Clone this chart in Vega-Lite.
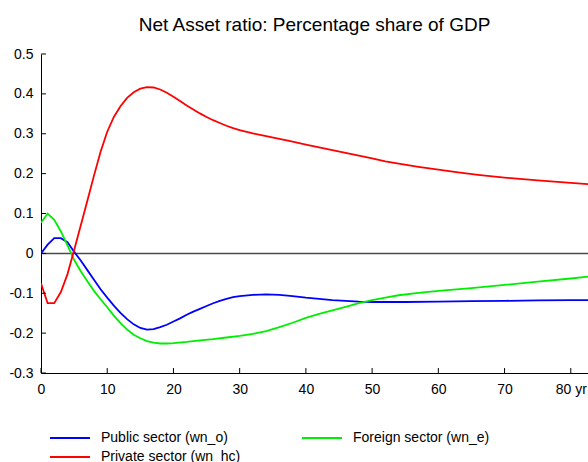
{
  "$schema": "https://vega.github.io/schema/vega-lite/v6.json",
  "autosize": {"type": "none"},
  "width": 547,
  "height": 319,
  "padding": {"left": 41, "top": 54, "right": 0, "bottom": 89},
  "background": "white",
  "config": {
    "font": "Liberation Sans",
    "view": {"stroke": null},
    "axis": {"grid": false, "domainColor": "#000000", "tickColor": "#000000", "labelColor": "#000000", "labelFontSize": 14, "labelFont": "Liberation Sans", "labelOverlap": false},
    "legend": {"orient": "none", "symbolType": "stroke", "symbolSize": 1600, "symbolStrokeWidth": 2, "labelFontSize": 14, "labelColor": "#000000", "labelOffset": 10, "labelLimit": 300}
  },
  "title": {"text": "Net Asset ratio: Percentage share of GDP", "fontSize": 19, "fontWeight": "normal", "font": "Liberation Sans", "color": "#000000", "anchor": "middle", "frame": "group", "offset": 12},
  "datasets": {
    "zero": [{"y": 0}],
    "ticksx": [{"x":0},{"x":10},{"x":20},{"x":30},{"x":40},{"x":50},{"x":60},{"x":70},{"x":80}],
    "ticksy": [{"y":-0.3},{"y":-0.2},{"y":-0.1},{"y":0},{"y":0.1},{"y":0.2},{"y":0.3},{"y":0.4},{"y":0.5}],
    "series": [
    {"t":0,"s":"Public sector (wn_o)","v":0},{"t":1,"s":"Public sector (wn_o)","v":0.022},{"t":2,"s":"Public sector (wn_o)","v":0.038},{"t":3,"s":"Public sector (wn_o)","v":0.038},{"t":4,"s":"Public sector (wn_o)","v":0.028},{"t":5,"s":"Public sector (wn_o)","v":0.004},{"t":6,"s":"Public sector (wn_o)","v":-0.018},{"t":7,"s":"Public sector (wn_o)","v":-0.042},{"t":8,"s":"Public sector (wn_o)","v":-0.066},{"t":9,"s":"Public sector (wn_o)","v":-0.09},{"t":10,"s":"Public sector (wn_o)","v":-0.111},{"t":11,"s":"Public sector (wn_o)","v":-0.131},{"t":12,"s":"Public sector (wn_o)","v":-0.149},{"t":13,"s":"Public sector (wn_o)","v":-0.165},{"t":14,"s":"Public sector (wn_o)","v":-0.178},{"t":15,"s":"Public sector (wn_o)","v":-0.187},{"t":16,"s":"Public sector (wn_o)","v":-0.191},{"t":17,"s":"Public sector (wn_o)","v":-0.19},{"t":18,"s":"Public sector (wn_o)","v":-0.185},{"t":19,"s":"Public sector (wn_o)","v":-0.179},{"t":20,"s":"Public sector (wn_o)","v":-0.171},{"t":21,"s":"Public sector (wn_o)","v":-0.163},{"t":22,"s":"Public sector (wn_o)","v":-0.154},{"t":23,"s":"Public sector (wn_o)","v":-0.146},{"t":24,"s":"Public sector (wn_o)","v":-0.139},{"t":25,"s":"Public sector (wn_o)","v":-0.132},{"t":26,"s":"Public sector (wn_o)","v":-0.125},{"t":27,"s":"Public sector (wn_o)","v":-0.119},{"t":28,"s":"Public sector (wn_o)","v":-0.114},{"t":29,"s":"Public sector (wn_o)","v":-0.11},{"t":30,"s":"Public sector (wn_o)","v":-0.107},{"t":32,"s":"Public sector (wn_o)","v":-0.104},{"t":34,"s":"Public sector (wn_o)","v":-0.103},{"t":36,"s":"Public sector (wn_o)","v":-0.104},{"t":38,"s":"Public sector (wn_o)","v":-0.107},{"t":40,"s":"Public sector (wn_o)","v":-0.111},{"t":42,"s":"Public sector (wn_o)","v":-0.114},{"t":44,"s":"Public sector (wn_o)","v":-0.117},{"t":46,"s":"Public sector (wn_o)","v":-0.119},{"t":48,"s":"Public sector (wn_o)","v":-0.121},{"t":50,"s":"Public sector (wn_o)","v":-0.122},{"t":55,"s":"Public sector (wn_o)","v":-0.122},{"t":60,"s":"Public sector (wn_o)","v":-0.121},{"t":65,"s":"Public sector (wn_o)","v":-0.12},{"t":70,"s":"Public sector (wn_o)","v":-0.119},{"t":75,"s":"Public sector (wn_o)","v":-0.118},{"t":80,"s":"Public sector (wn_o)","v":-0.117},{"t":84,"s":"Public sector (wn_o)","v":-0.117},
    {"t":0,"s":"Foreign sector (wn_e)","v":0.077},{"t":1,"s":"Foreign sector (wn_e)","v":0.1},{"t":2,"s":"Foreign sector (wn_e)","v":0.084},{"t":3,"s":"Foreign sector (wn_e)","v":0.055},{"t":4,"s":"Foreign sector (wn_e)","v":0.02},{"t":5,"s":"Foreign sector (wn_e)","v":-0.016},{"t":6,"s":"Foreign sector (wn_e)","v":-0.045},{"t":7,"s":"Foreign sector (wn_e)","v":-0.07},{"t":8,"s":"Foreign sector (wn_e)","v":-0.094},{"t":9,"s":"Foreign sector (wn_e)","v":-0.115},{"t":10,"s":"Foreign sector (wn_e)","v":-0.135},{"t":11,"s":"Foreign sector (wn_e)","v":-0.156},{"t":12,"s":"Foreign sector (wn_e)","v":-0.175},{"t":13,"s":"Foreign sector (wn_e)","v":-0.191},{"t":14,"s":"Foreign sector (wn_e)","v":-0.204},{"t":15,"s":"Foreign sector (wn_e)","v":-0.213},{"t":16,"s":"Foreign sector (wn_e)","v":-0.22},{"t":17,"s":"Foreign sector (wn_e)","v":-0.224},{"t":18,"s":"Foreign sector (wn_e)","v":-0.226},{"t":19,"s":"Foreign sector (wn_e)","v":-0.226},{"t":20,"s":"Foreign sector (wn_e)","v":-0.225},{"t":22,"s":"Foreign sector (wn_e)","v":-0.222},{"t":24,"s":"Foreign sector (wn_e)","v":-0.218},{"t":26,"s":"Foreign sector (wn_e)","v":-0.215},{"t":28,"s":"Foreign sector (wn_e)","v":-0.211},{"t":30,"s":"Foreign sector (wn_e)","v":-0.207},{"t":32,"s":"Foreign sector (wn_e)","v":-0.202},{"t":34,"s":"Foreign sector (wn_e)","v":-0.195},{"t":36,"s":"Foreign sector (wn_e)","v":-0.185},{"t":38,"s":"Foreign sector (wn_e)","v":-0.174},{"t":40,"s":"Foreign sector (wn_e)","v":-0.162},{"t":42,"s":"Foreign sector (wn_e)","v":-0.152},{"t":44,"s":"Foreign sector (wn_e)","v":-0.143},{"t":46,"s":"Foreign sector (wn_e)","v":-0.134},{"t":48,"s":"Foreign sector (wn_e)","v":-0.125},{"t":50,"s":"Foreign sector (wn_e)","v":-0.117},{"t":52,"s":"Foreign sector (wn_e)","v":-0.111},{"t":54,"s":"Foreign sector (wn_e)","v":-0.105},{"t":57,"s":"Foreign sector (wn_e)","v":-0.099},{"t":60,"s":"Foreign sector (wn_e)","v":-0.094},{"t":65,"s":"Foreign sector (wn_e)","v":-0.087},{"t":70,"s":"Foreign sector (wn_e)","v":-0.079},{"t":75,"s":"Foreign sector (wn_e)","v":-0.071},{"t":80,"s":"Foreign sector (wn_e)","v":-0.063},{"t":84,"s":"Foreign sector (wn_e)","v":-0.056},
    {"t":0,"s":"Private sector (wn_hc)","v":-0.075},{"t":1,"s":"Private sector (wn_hc)","v":-0.125},{"t":2,"s":"Private sector (wn_hc)","v":-0.125},{"t":3,"s":"Private sector (wn_hc)","v":-0.097},{"t":4,"s":"Private sector (wn_hc)","v":-0.052},{"t":5,"s":"Private sector (wn_hc)","v":0.008},{"t":6,"s":"Private sector (wn_hc)","v":0.07},{"t":7,"s":"Private sector (wn_hc)","v":0.132},{"t":8,"s":"Private sector (wn_hc)","v":0.195},{"t":9,"s":"Private sector (wn_hc)","v":0.255},{"t":10,"s":"Private sector (wn_hc)","v":0.305},{"t":11,"s":"Private sector (wn_hc)","v":0.342},{"t":12,"s":"Private sector (wn_hc)","v":0.369},{"t":13,"s":"Private sector (wn_hc)","v":0.39},{"t":14,"s":"Private sector (wn_hc)","v":0.404},{"t":15,"s":"Private sector (wn_hc)","v":0.413},{"t":16,"s":"Private sector (wn_hc)","v":0.417},{"t":17,"s":"Private sector (wn_hc)","v":0.416},{"t":18,"s":"Private sector (wn_hc)","v":0.411},{"t":19,"s":"Private sector (wn_hc)","v":0.403},{"t":20,"s":"Private sector (wn_hc)","v":0.393},{"t":21,"s":"Private sector (wn_hc)","v":0.382},{"t":22,"s":"Private sector (wn_hc)","v":0.371},{"t":23,"s":"Private sector (wn_hc)","v":0.361},{"t":24,"s":"Private sector (wn_hc)","v":0.351},{"t":25,"s":"Private sector (wn_hc)","v":0.342},{"t":26,"s":"Private sector (wn_hc)","v":0.334},{"t":27,"s":"Private sector (wn_hc)","v":0.327},{"t":28,"s":"Private sector (wn_hc)","v":0.32},{"t":29,"s":"Private sector (wn_hc)","v":0.314},{"t":30,"s":"Private sector (wn_hc)","v":0.309},{"t":32,"s":"Private sector (wn_hc)","v":0.301},{"t":34,"s":"Private sector (wn_hc)","v":0.294},{"t":36,"s":"Private sector (wn_hc)","v":0.287},{"t":38,"s":"Private sector (wn_hc)","v":0.28},{"t":40,"s":"Private sector (wn_hc)","v":0.273},{"t":42,"s":"Private sector (wn_hc)","v":0.266},{"t":44,"s":"Private sector (wn_hc)","v":0.259},{"t":46,"s":"Private sector (wn_hc)","v":0.252},{"t":48,"s":"Private sector (wn_hc)","v":0.245},{"t":50,"s":"Private sector (wn_hc)","v":0.238},{"t":52,"s":"Private sector (wn_hc)","v":0.231},{"t":54,"s":"Private sector (wn_hc)","v":0.225},{"t":57,"s":"Private sector (wn_hc)","v":0.217},{"t":60,"s":"Private sector (wn_hc)","v":0.21},{"t":63,"s":"Private sector (wn_hc)","v":0.203},{"t":66,"s":"Private sector (wn_hc)","v":0.197},{"t":70,"s":"Private sector (wn_hc)","v":0.19},{"t":75,"s":"Private sector (wn_hc)","v":0.183},{"t":80,"s":"Private sector (wn_hc)","v":0.177},{"t":84,"s":"Private sector (wn_hc)","v":0.172}
  ]},
  "layer": [
    {
      "data": {"name": "zero"},
      "mark": {"type": "rule", "color": "#4a4a4a", "strokeWidth": 1.5},
      "encoding": {"y": {"field": "y", "type": "quantitative", "scale": {"domain": [-0.3, 0.5], "nice": false},
          "axis": {"title": null, "values": [-0.3,-0.2,-0.1,0,0.1,0.2,0.3,0.4,0.5], "ticks": false, "labelPadding": 8, "labelOverlap": false, "labelExpr": "'' + datum.value"}}}
    },
    {
      "data": {"name": "series"},
      "transform": [{"filter": "datum.s != 'Private sector (wn_hc)'"}],
      "mark": {"type": "line", "strokeWidth": 1.8, "clip": true},
      "encoding": {
        "x": {"field": "t", "type": "quantitative", "scale": {"domain": [0, 82.6], "nice": false, "zero": false},
          "axis": {"title": null, "values": [0,10,20,30,40,50,60,70,80], "ticks": false, "labelPadding": 9, "labelOverlap": false, "labelExpr": "datum.value == 80 ? '80 yr' : '' + datum.value", "labelFlush": false}},
        "y": {"field": "v", "type": "quantitative",
          "axis": {"title": null, "values": [-0.3,-0.2,-0.1,0,0.1,0.2,0.3,0.4,0.5], "ticks": false, "labelPadding": 8, "labelOverlap": false, "labelExpr": "'' + datum.value"}},
        "color": {"field": "s", "type": "nominal",
          "scale": {"domain": ["Public sector (wn_o)", "Foreign sector (wn_e)"], "range": ["#0000ff", "#00ee00"]},
          "legend": {"title": null, "legendX": 8, "legendY": 363, "columns": 2, "direction": "horizontal", "columnPadding": 70}}
      }
    },
    {
      "data": {"name": "series"},
      "transform": [{"filter": "datum.s == 'Private sector (wn_hc)'"}],
      "mark": {"type": "line", "strokeWidth": 1.8, "clip": true},
      "encoding": {
        "x": {"field": "t", "type": "quantitative",
          "axis": {"title": null, "values": [0,10,20,30,40,50,60,70,80], "ticks": false, "labelPadding": 9, "labelOverlap": false, "labelExpr": "datum.value == 80 ? '80 yr' : '' + datum.value", "labelFlush": false}},
        "y": {"field": "v", "type": "quantitative",
          "axis": {"title": null, "values": [-0.3,-0.2,-0.1,0,0.1,0.2,0.3,0.4,0.5], "ticks": false, "labelPadding": 8, "labelOverlap": false, "labelExpr": "'' + datum.value"}},
        "color": {"field": "s", "type": "nominal",
          "scale": {"domain": ["Private sector (wn_hc)"], "range": ["#ff0000"]},
          "legend": {"title": null, "legendX": 8, "legendY": 382, "direction": "horizontal"}}
      }
    },
    {
      "data": {"name": "ticksx"},
      "mark": {"type": "rule", "color": "#000000", "strokeWidth": 1},
      "encoding": {
        "x": {"field": "x", "type": "quantitative",
          "axis": {"title": null, "values": [0,10,20,30,40,50,60,70,80], "ticks": false, "labelPadding": 9, "labelOverlap": false, "labelExpr": "datum.value == 80 ? '80 yr' : '' + datum.value", "labelFlush": false}},
        "y": {"datum": -0.3, "type": "quantitative",
          "axis": {"title": null, "values": [-0.3,-0.2,-0.1,0,0.1,0.2,0.3,0.4,0.5], "ticks": false, "labelPadding": 8, "labelOverlap": false, "labelExpr": "'' + datum.value"}},
        "y2": {"datum": -0.2875}
      }
    },
    {
      "data": {"name": "ticksy"},
      "mark": {"type": "rule", "color": "#000000", "strokeWidth": 1},
      "encoding": {
        "y": {"field": "y", "type": "quantitative",
          "axis": {"title": null, "values": [-0.3,-0.2,-0.1,0,0.1,0.2,0.3,0.4,0.5], "ticks": false, "labelPadding": 8, "labelOverlap": false, "labelExpr": "'' + datum.value"}},
        "x": {"datum": 0, "type": "quantitative",
          "axis": {"title": null, "values": [0,10,20,30,40,50,60,70,80], "ticks": false, "labelPadding": 9, "labelOverlap": false, "labelExpr": "datum.value == 80 ? '80 yr' : '' + datum.value", "labelFlush": false}},
        "x2": {"datum": 0.75}
      }
    }
  ],
  "resolve": {"scale": {"color": "independent"}}
}
